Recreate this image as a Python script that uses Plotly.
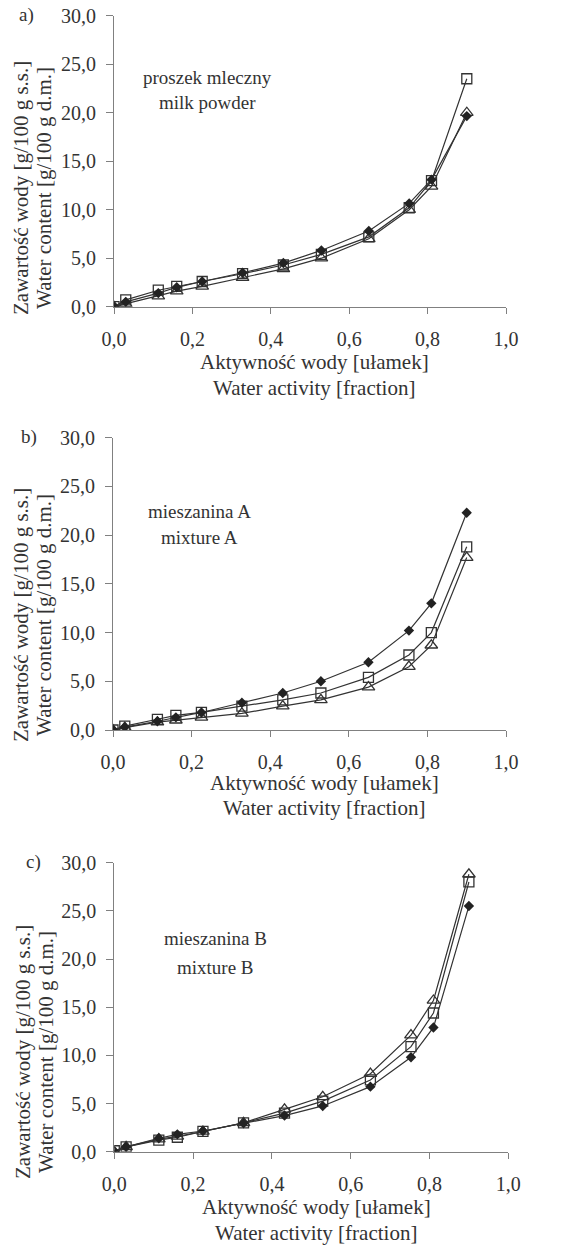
import plotly.graph_objects as go

W, H = 571, 1245

# ---------------- data ----------------
aw = [0.0, 0.03, 0.113, 0.16, 0.225, 0.328, 0.432, 0.529, 0.65, 0.753, 0.81, 0.90]

a_diamond = [0.0, 0.5, 1.4, 2.0, 2.6, 3.5, 4.5, 5.8, 7.8, 10.65, 13.1, 19.65]
a_square = [0.0, 0.7, 1.7, 2.1, 2.6, 3.4, 4.3, 5.4, 7.2, 10.2, 13.0, 23.5]
a_triangle = [0.0, 0.3, 1.1, 1.6, 2.1, 3.0, 3.9, 5.0, 7.0, 10.0, 12.4, 20.0]

b_diamond = [0.0, 0.3, 0.9, 1.3, 1.8, 2.8, 3.8, 5.0, 6.95, 10.2, 13.0, 22.3]
b_square = [0.0, 0.4, 1.1, 1.5, 1.8, 2.45, 3.1, 3.8, 5.4, 7.7, 10.0, 18.8]
b_triangle = [0.0, 0.25, 0.8, 1.0, 1.3, 1.7, 2.45, 3.1, 4.4, 6.5, 8.7, 17.7]

c_diamond = [0.0, 0.5, 1.4, 1.8, 2.15, 2.95, 3.75, 4.75, 6.75, 9.8, 12.9, 25.5]
c_square = [0.1, 0.5, 1.2, 1.5, 2.1, 3.0, 4.0, 5.25, 7.45, 10.9, 14.4, 28.0]
c_triangle = [0.0, 0.5, 1.3, 1.6, 2.1, 3.0, 4.4, 5.7, 8.1, 12.1, 15.7, 28.8]

panel_letters = ["a)", "b)", "c)"]
panel_names = [("proszek mleczny", "milk powder"),
               ("mieszanina A", "mixture A"),
               ("mieszanina B", "mixture B")]
x_title = ("Aktywność wody [ułamek]", "Water activity [fraction]")
y_title = ("Zawartość wody [g/100 g s.s.]", "Water content [g/100 g d.m.]")

panels = [
    (a_diamond, a_square, a_triangle),
    (b_diamond, b_square, b_triangle),
    (c_diamond, c_square, c_triangle),
]

# ---------------- layout geometry (pixels) ----------------
def px(x):
    return x / W

def py(y):
    return 1 - y / H

plot_boxes = [  # (left, right, top, bottom) in px
    (114, 506, 15.7, 306.7),
    (113, 506, 437.7, 730),
    (114.3, 508.3, 862.7, 1151.7),
]
letter_pos = [(26, 15), (29, 437), (33, 862)]
name_pos = [(207, 77, 103), (199, 512, 537), (215, 938, 967)]
xtitle_pos = [(314, 362, 388), (324, 783, 808), (316, 1207, 1233)]
ytitle_pos = [(21, 44, 188), (21, 44, 615), (23, 46, 1052)]

TXT = "#333333"
LINE = "#333333"
AX = "#808080"
FONT = "Times New Roman, Liberation Serif, serif"

fig = go.Figure()
annotations = []
layout_axes = {}


def note(x, y, text, size=19, angle=0):
    annotations.append(dict(x=px(x), y=py(y), xref="paper", yref="paper",
                            xanchor="center", yanchor="middle",
                            text=text, showarrow=False, textangle=angle,
                            font=dict(family=FONT, size=size, color=TXT)))


for i, (d, s, t) in enumerate(panels):
    n = "" if i == 0 else str(i + 1)
    xa, ya = "x" + n, "y" + n
    common = dict(x=aw, mode="lines+markers", xaxis=xa, yaxis=ya,
                  line=dict(color=LINE, width=1.2), showlegend=False)
    fig.add_trace(go.Scatter(y=s, marker=dict(symbol="square-open", size=10,
                                               color=LINE, line=dict(width=1.3)), **common))
    fig.add_trace(go.Scatter(y=t, marker=dict(symbol="triangle-up-open", size=11,
                                               color=LINE, line=dict(width=1.3)), **common))
    fig.add_trace(go.Scatter(y=d, marker=dict(symbol="diamond", size=8,
                                               color="#222222"), **common))

    l, r, tp, bt = plot_boxes[i]
    layout_axes["xaxis" + n] = dict(
        domain=[px(l), px(r)], range=[0, 1.0], anchor=ya, automargin=False,
        tickvals=[0, 0.2, 0.4, 0.6, 0.8, 1.0], tickformat=".1f",
        showline=True, linecolor=AX, linewidth=1, ticks="outside", ticklen=6,
        tickcolor=AX, showgrid=False, zeroline=False,
        tickfont=dict(family=FONT, size=20, color=TXT), ticklabelstandoff=8,
    )
    layout_axes["yaxis" + n] = dict(
        domain=[py(bt), py(tp)], range=[0, 30], anchor=xa, automargin=False,
        tickvals=[0, 5, 10, 15, 20, 25, 30], tickformat=".1f",
        showline=True, linecolor=AX, linewidth=1, ticks="outside", ticklen=7,
        tickcolor=AX, showgrid=False, zeroline=False,
        tickfont=dict(family=FONT, size=20, color=TXT), ticklabelstandoff=6,
    )

    lx, ly = letter_pos[i]
    note(lx, ly, panel_letters[i])
    nx, ny1, ny2 = name_pos[i]
    note(nx, ny1, panel_names[i][0])
    note(nx, ny2, panel_names[i][1])
    tx, ty1, ty2 = xtitle_pos[i]
    note(tx, ty1, x_title[0], size=21)
    note(tx, ty2, x_title[1], size=21)
    yx1, yx2, yy = ytitle_pos[i]
    note(yx1, yy, y_title[0], size=21, angle=-90)
    note(yx2, yy, y_title[1], size=21, angle=-90)

fig.update_layout(
    template="none",
    width=W, height=H, margin=dict(l=0, r=0, t=0, b=0, autoexpand=False),
    paper_bgcolor="white", plot_bgcolor="white",
    separators=", ",
    annotations=annotations,
    **layout_axes,
)

fig.write_html("out.html")
